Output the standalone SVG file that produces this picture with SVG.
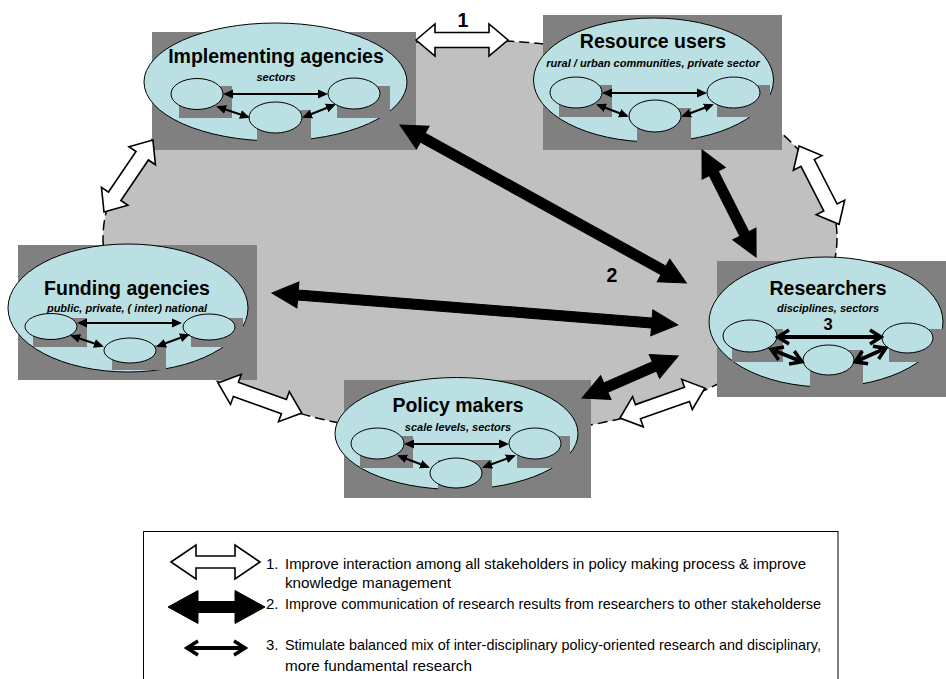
<svg xmlns="http://www.w3.org/2000/svg" width="946" height="679" viewBox="0 0 946 679">
<style>
.bg{fill:#c0c0c0;stroke:#000;stroke-width:1.5;stroke-dasharray:10 5}
.sh{fill:#808080}
.el{fill:#bbe0e3;stroke:#000;stroke-width:1}
.ia{stroke:#000;stroke-width:2;fill:none;marker-start:url(#ah);marker-end:url(#ah)}
.ib{stroke:#000;stroke-width:4;fill:none;marker-start:url(#ahb);marker-end:url(#ahb)}
.t{font-family:"Liberation Sans",Arial,sans-serif;font-weight:bold;font-size:19.5px;text-anchor:middle;fill:#000}
.s{font-family:"Liberation Sans",Arial,sans-serif;font-weight:bold;font-style:italic;font-size:11px;text-anchor:middle;fill:#000}
.n{font-family:"Liberation Sans",Arial,sans-serif;font-weight:bold;text-anchor:middle;fill:#000}
.big{fill:#000;stroke:#000;stroke-width:1}
.hol{fill:#fff;stroke:#000;stroke-width:1.6;stroke-linejoin:miter}
.lg{font-family:"Liberation Sans",Arial,sans-serif;font-size:15px;fill:#000}
</style>
<defs>
<marker id="ah" markerUnits="userSpaceOnUse" markerWidth="10" markerHeight="10" viewBox="0 0 10 10" refX="8" refY="5" orient="auto-start-reverse">
<path d="M0,0.5 L10,5 L0,9.5 z" fill="#000"/>
</marker>
<marker id="ahb" markerUnits="userSpaceOnUse" markerWidth="16" markerHeight="18" viewBox="0 0 16 18" refX="11" refY="9" orient="auto-start-reverse">
<path d="M2,2 L13,9 L2,16" fill="none" stroke="#000" stroke-width="3.5"/>
</marker>
</defs>

<ellipse class="bg" cx="470" cy="238" rx="367" ry="198"/>

<g id="implementing-agencies">
<rect class="sh" x="152" y="32" width="264" height="118"/>
<ellipse class="el" cx="275.5" cy="82" rx="131.5" ry="59"/>
<rect class="sh" x="179" y="86" width="53" height="32"/>
<rect class="sh" x="257" y="110" width="54" height="40"/>
<rect class="sh" x="337" y="86" width="53" height="32"/>
<ellipse class="el" cx="197" cy="94" rx="26" ry="15.5"/>
<ellipse class="el" cx="275.5" cy="117.5" rx="26.5" ry="15.5"/>
<ellipse class="el" cx="354" cy="93.5" rx="26" ry="15.5"/>
<line class="ia" x1="225" y1="94" x2="326" y2="94"/>
<line class="ia" x1="218" y1="107" x2="248" y2="117"/>
<line class="ia" x1="304" y1="117" x2="334" y2="105"/>
<text class="t" x="276" y="63">Implementing agencies</text>
<text class="s" x="276" y="81">sectors</text>
</g>

<g id="resource-users">
<rect class="sh" x="543" y="15" width="239" height="135"/>
<ellipse class="el" cx="653.5" cy="80" rx="120" ry="62"/>
<rect class="sh" x="559" y="85" width="53" height="32"/>
<rect class="sh" x="637" y="108" width="54" height="42"/>
<rect class="sh" x="717" y="85" width="53" height="32"/>
<ellipse class="el" cx="576" cy="92.5" rx="26" ry="15.5"/>
<ellipse class="el" cx="655" cy="116" rx="26" ry="16"/>
<ellipse class="el" cx="733.5" cy="92.5" rx="26.5" ry="15.5"/>
<line class="ia" x1="604" y1="93" x2="705" y2="93"/>
<line class="ia" x1="598" y1="105" x2="627" y2="116"/>
<line class="ia" x1="683" y1="116" x2="712" y2="105"/>
<text class="t" x="653" y="48">Resource users</text>
<text class="s" x="653" y="67">rural / urban communities, private sector</text>
</g>

<g id="funding-agencies">
<rect class="sh" x="18" y="245" width="239" height="135"/>
<ellipse class="el" cx="128" cy="308" rx="120" ry="64"/>
<rect class="sh" x="33" y="318" width="54" height="29"/>
<rect class="sh" x="112" y="345" width="54" height="25"/>
<rect class="sh" x="191" y="318" width="52" height="29"/>
<ellipse class="el" cx="51" cy="326.5" rx="26" ry="13"/>
<ellipse class="el" cx="130" cy="350.5" rx="26" ry="12.5"/>
<ellipse class="el" cx="209" cy="327" rx="26" ry="13"/>
<line class="ia" x1="79" y1="323" x2="180" y2="323"/>
<line class="ia" x1="72" y1="336" x2="102" y2="346"/>
<line class="ia" x1="158" y1="346" x2="188" y2="335"/>
<text class="t" x="127" y="295">Funding agencies</text>
<text class="s" x="127" y="312">public, private, ( inter) national</text>
</g>

<g id="researchers">
<rect class="sh" x="717" y="261" width="229" height="136"/>
<ellipse class="el" cx="826" cy="322" rx="117" ry="65"/>
<rect class="sh" x="732" y="329" width="51" height="33"/>
<rect class="sh" x="810" y="350" width="53" height="47"/>
<rect class="sh" x="889" y="329" width="54" height="33"/>
<ellipse class="el" cx="750" cy="336" rx="27" ry="16"/>
<ellipse class="el" cx="828.5" cy="360" rx="25.5" ry="15"/>
<ellipse class="el" cx="907.5" cy="338" rx="25.5" ry="15"/>
<line class="ib" x1="780" y1="337" x2="879" y2="337"/>
<line class="ib" x1="773" y1="350" x2="800" y2="361"/>
<line class="ib" x1="857" y1="361" x2="884" y2="349"/>
<text class="t" x="828" y="295">Researchers</text>
<text class="s" x="828" y="312">disciplines, sectors</text>
<text class="n" x="828" y="330" font-size="16.5">3</text>
</g>

<g id="policy-makers">
<rect class="sh" x="344" y="380" width="247" height="118"/>
<ellipse class="el" cx="456.5" cy="433.5" rx="121.5" ry="56"/>
<rect class="sh" x="360" y="436" width="53" height="32"/>
<rect class="sh" x="438" y="460" width="54" height="38"/>
<rect class="sh" x="517" y="436" width="53" height="32"/>
<ellipse class="el" cx="377.5" cy="443.5" rx="26.5" ry="15.5"/>
<ellipse class="el" cx="456" cy="473" rx="26" ry="15"/>
<ellipse class="el" cx="535" cy="443.5" rx="26" ry="15.5"/>
<line class="ia" x1="406" y1="444" x2="507" y2="444"/>
<line class="ia" x1="399" y1="456" x2="428" y2="467"/>
<line class="ia" x1="484" y1="467" x2="514" y2="456"/>
<text class="t" x="458" y="412">Policy makers</text>
<text class="s" x="458" y="431">scale levels, sectors</text>
</g>

<g id="connectors">
<path class="big" transform="translate(400,125) rotate(28.9)" d="M0,0 L26,-13 L26,-5 L301,-5 L301,-13 L327,0 L301,13 L301,5 L26,5 L26,13 Z"/>
<path class="big" transform="translate(272,293) rotate(4.5)" d="M0,0 L26,-13 L26,-5 L381,-5 L381,-13 L407,0 L381,13 L381,5 L26,5 L26,13 Z"/>
<path class="big" transform="translate(702,150) rotate(63.2)" d="M0,0 L26,-13 L26,-5 L94,-5 L94,-13 L120,0 L94,13 L94,5 L26,5 L26,13 Z"/>
<path class="big" transform="translate(582,398) rotate(-23.6)" d="M0,0 L26,-13 L26,-5 L79,-5 L79,-13 L105,0 L79,13 L79,5 L26,5 L26,13 Z"/>
<path class="hol" transform="translate(416,40)" d="M0,0 L19,-16 L19,-7.5 L73,-7.5 L73,-16 L92,0 L73,16 L73,7.5 L19,7.5 L19,16 Z"/>
<path class="hol" transform="translate(104,212) rotate(-55.8)" d="M0,0 L19,-16 L19,-7.5 L68,-7.5 L68,-16 L87,0 L68,16 L68,7.5 L19,7.5 L19,16 Z"/>
<path class="hol" transform="translate(799,146) rotate(62.9)" d="M0,0 L19,-16 L19,-7.5 L69,-7.5 L69,-16 L88,0 L69,16 L69,7.5 L19,7.5 L19,16 Z"/>
<path class="hol" transform="translate(218,383) rotate(19.7)" d="M0,0 L19,-16 L19,-7.5 L70,-7.5 L70,-16 L89,0 L70,16 L70,7.5 L19,7.5 L19,16 Z"/>
<path class="hol" transform="translate(620,418) rotate(-19.4)" d="M0,0 L19,-16 L19,-7.5 L71,-7.5 L71,-16 L90,0 L71,16 L71,7.5 L19,7.5 L19,16 Z"/>
<text class="n" x="463" y="27" font-size="19.5">1</text>
<text class="n" x="612" y="282" font-size="19.5">2</text>
</g>

<g id="legend">
<rect x="143.5" y="531.5" width="694.5" height="160" fill="#fff" stroke="#000" stroke-width="1"/>
<path class="hol" transform="translate(171,562)" d="M0,0 L25,-17 L25,-6 L64,-6 L64,-17 L89,0 L64,17 L64,6 L25,6 L25,17 Z"/>
<path class="big" transform="translate(168,607)" d="M0,0 L30,-16.5 L30,-5.5 L67,-5.5 L67,-16.5 L97,0 L67,16.5 L67,5.5 L30,5.5 L30,16.5 Z"/>
<line class="ib" x1="189" y1="648" x2="243" y2="648"/>
<text class="lg" x="266" y="569">1.</text>
<text class="lg" x="285" y="569" textLength="521" lengthAdjust="spacingAndGlyphs">Improve interaction among all stakeholders in policy making process &amp; improve</text>
<text class="lg" x="285" y="588" textLength="166" lengthAdjust="spacingAndGlyphs">knowledge management</text>
<text class="lg" x="266" y="609">2.</text>
<text class="lg" x="285" y="609" textLength="536" lengthAdjust="spacingAndGlyphs">Improve communication of research results from researchers to other stakeholderse</text>
<text class="lg" x="266" y="650">3.</text>
<text class="lg" x="285" y="650" textLength="536" lengthAdjust="spacingAndGlyphs">Stimulate balanced mix of inter-disciplinary policy-oriented research and disciplinary,</text>
<text class="lg" x="285" y="671" textLength="187" lengthAdjust="spacingAndGlyphs">more fundamental research</text>
</g>
</svg>
